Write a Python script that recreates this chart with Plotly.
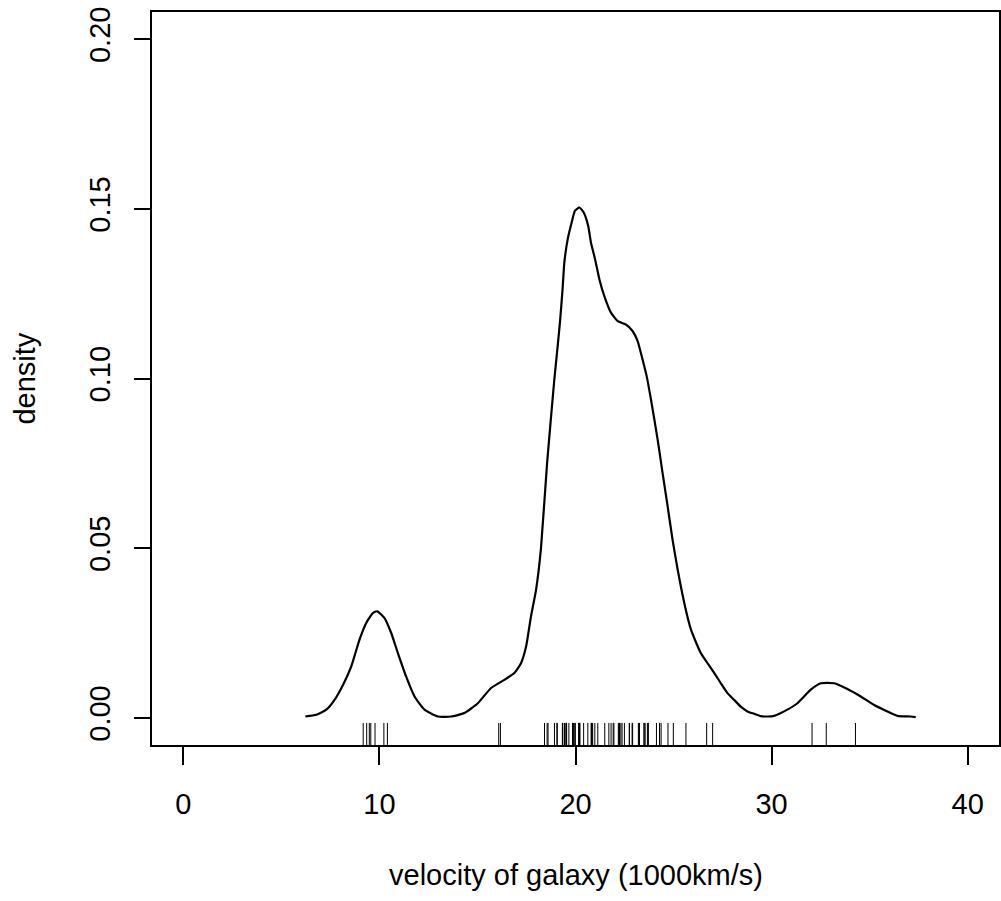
import plotly.graph_objects as go

# density curve (velocity in 1000 km/s, density)
vel = [6.22, 6.78, 7.29, 7.71, 8.14, 8.56, 8.98, 9.32, 9.67, 9.89, 10.26, 10.60,
       10.94, 11.36, 11.79, 12.30, 12.98, 13.66, 14.33, 15.02, 15.69, 16.37, 16.88,
       17.22, 17.48, 17.73, 17.99, 18.24, 18.55, 18.92, 19.09, 19.22, 19.34, 19.43,
       19.60, 19.80, 19.97, 20.20, 20.42, 20.65, 20.79, 21.00, 21.22, 21.47, 21.81,
       22.15, 22.57, 22.91, 23.17, 23.42, 23.63, 23.85, 24.19, 24.44, 24.70, 24.95,
       25.21, 25.55, 25.89, 26.39, 27.08, 27.41, 27.75, 28.09, 28.43, 28.77, 29.11,
       29.45, 29.79, 30.13, 30.64, 31.32, 32.00, 32.51, 33.19, 33.87, 34.55, 35.23,
       35.91, 36.42, 37.10, 37.35]
dens = [0.0004, 0.0009, 0.0024, 0.0053, 0.0097, 0.0151, 0.0230, 0.0279, 0.0309,
        0.0314, 0.0294, 0.0250, 0.0191, 0.0122, 0.0063, 0.0024, 0.0004, 0.0004,
        0.0014, 0.0043, 0.0088, 0.0112, 0.0132, 0.0161, 0.0210, 0.0299, 0.0378,
        0.0500, 0.0750, 0.0997, 0.1095, 0.1174, 0.1263, 0.1341, 0.1410, 0.1459,
        0.1494, 0.1504, 0.1489, 0.1449, 0.1400, 0.1351, 0.1292, 0.1243, 0.1194,
        0.1169, 0.1159, 0.1140, 0.1110, 0.1056, 0.1007, 0.0938, 0.0820, 0.0722,
        0.0623, 0.0525, 0.0437, 0.0338, 0.0260, 0.0191, 0.0132, 0.0102, 0.0073,
        0.0053, 0.0033, 0.0019, 0.0012, 0.0005, 0.0004, 0.0006, 0.0019, 0.0043,
        0.0083, 0.0102, 0.0102, 0.0085, 0.0063, 0.0038, 0.0019, 0.0006, 0.0004,
        0.0002]

# observed velocities (rug)
galaxies = [9.172, 9.350, 9.483, 9.558, 9.775, 10.227, 10.406, 16.084, 16.170,
            18.419, 18.552, 18.600, 18.927, 19.052, 19.070, 19.330, 19.343, 19.349,
            19.440, 19.473, 19.529, 19.541, 19.547, 19.663, 19.846, 19.856, 19.863,
            19.914, 19.918, 19.973, 19.989, 20.166, 20.175, 20.179, 20.196, 20.215,
            20.221, 20.415, 20.629, 20.795, 20.821, 20.846, 20.875, 20.986, 21.137,
            21.492, 21.701, 21.814, 21.921, 21.960, 22.185, 22.209, 22.242, 22.249,
            22.314, 22.374, 22.495, 22.746, 22.747, 22.888, 22.914, 23.206, 23.241,
            23.263, 23.484, 23.538, 23.542, 23.666, 23.706, 23.711, 24.129, 24.285,
            24.289, 24.366, 24.717, 24.990, 25.633, 26.690, 26.995, 32.065, 32.789,
            34.279]

x_ticks = [0, 10, 20, 30, 40]
y_ticks = [0.00, 0.05, 0.10, 0.15, 0.20]
y_labels = ["0.00", "0.05", "0.10", "0.15", "0.20"]

x_range = [-1.6, 41.6]
y_range = [-0.008, 0.208]
rug_top = -0.0015

FONT = "Liberation Sans, Arial, sans-serif"

rug_x, rug_y = [], []
for g in galaxies:
    rug_x += [g, g, None]
    rug_y += [y_range[0], rug_top, None]

fig = go.Figure()
fig.add_trace(go.Scatter(x=vel, y=dens, mode="lines",
                         line=dict(color="black", width=2.2, shape="spline", smoothing=0.5),
                         hoverinfo="skip"))
fig.add_trace(go.Scatter(x=rug_x, y=rug_y, mode="lines",
                         line=dict(color="black", width=1), hoverinfo="skip"))

fig.update_layout(
    width=1001, height=901,
    margin=dict(l=152, r=0, t=12, b=156),
    paper_bgcolor="white", plot_bgcolor="white",
    showlegend=False,
    font=dict(family=FONT, size=29, color="black"),
    xaxis=dict(range=x_range, tickvals=x_ticks, ticks="outside", ticklen=18,
               tickwidth=1.5, tickcolor="black", showgrid=False, zeroline=False,
               showline=True, linecolor="black", linewidth=2, mirror=True,
               tickfont=dict(size=29, family=FONT), ticklabelstandoff=14),
    yaxis=dict(range=y_range, tickvals=y_ticks, ticktext=y_labels, ticks="outside",
               ticklen=16, tickwidth=1.5, tickcolor="black", showgrid=False,
               zeroline=False, showline=True, linecolor="black", linewidth=2,
               mirror=True, tickangle=-90, tickfont=dict(size=29, family=FONT),
               ticklabelstandoff=12),
    annotations=[
        dict(text="velocity of galaxy (1000km/s)", xref="paper", yref="paper",
             x=0.5, y=-0.178, xanchor="center", yanchor="middle", showarrow=False,
             font=dict(size=29, family=FONT)),
        dict(text="density", xref="paper", yref="paper", x=-0.151, y=0.5,
             xanchor="center", yanchor="middle", textangle=-90, showarrow=False,
             font=dict(size=29, family=FONT)),
    ],
)

# drop the default page margin so the figure sits at the window's corner
fig.write_html("out.html", config={"displayModeBar": False},
               post_script="document.body.style.margin='0';")
